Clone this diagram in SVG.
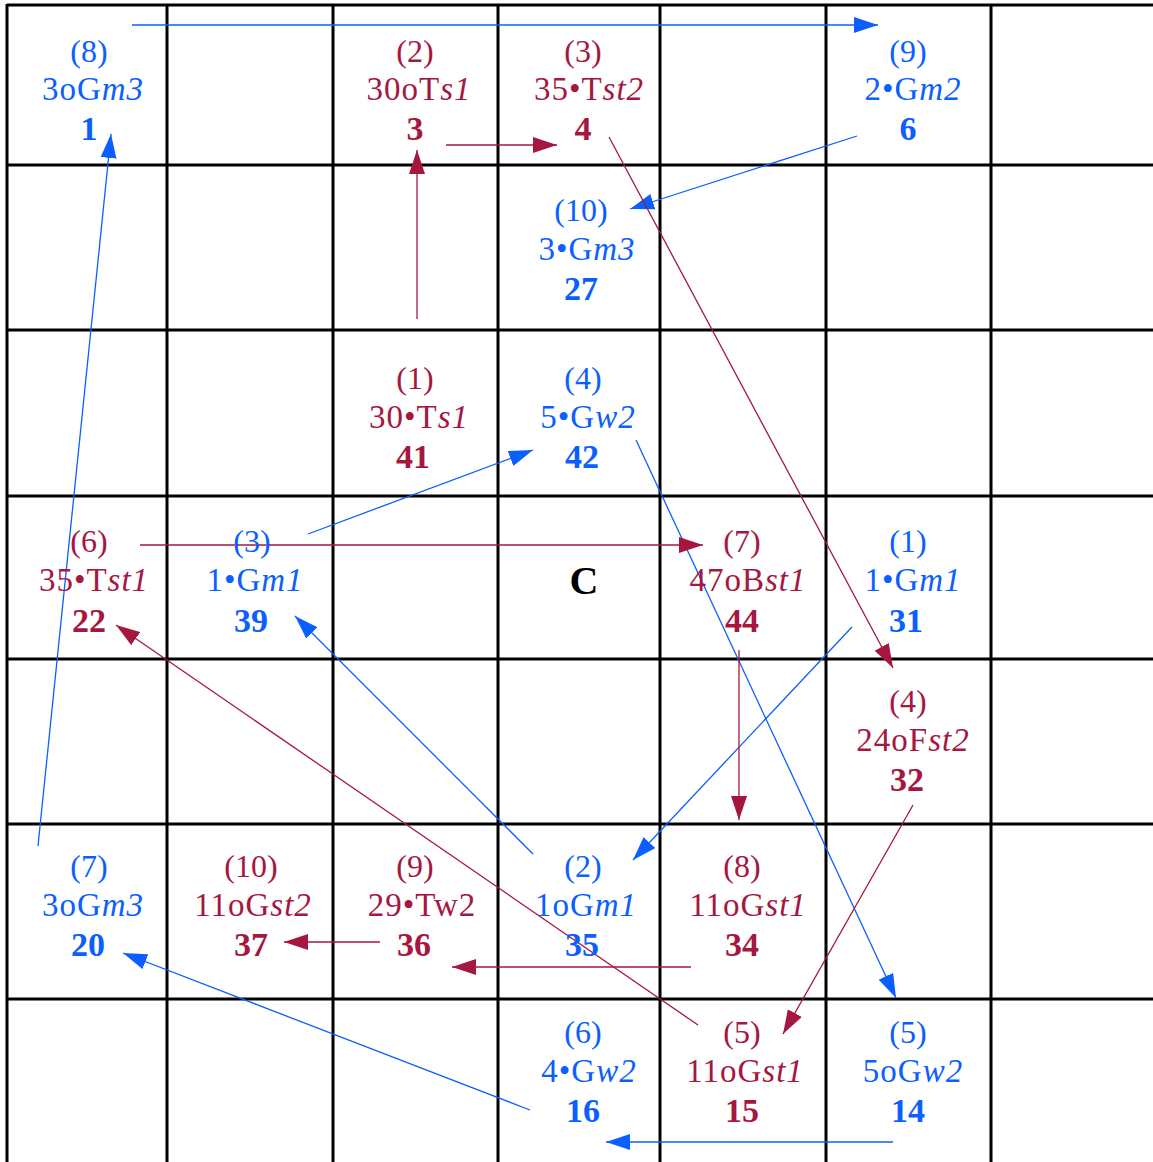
<svg xmlns="http://www.w3.org/2000/svg" width="1153" height="1162" viewBox="0 0 1153 1162">
<style>
text{font-family:"Liberation Serif","Times New Roman",serif;text-anchor:middle;font-size:32px}
.r{fill:#a6173f}.b{fill:#0b5fff}
.m{font-size:33px;letter-spacing:1px}
.n{font-weight:bold;font-size:34px}
.i{font-style:italic}
.grid line{stroke:#000;stroke-width:3}
.cr{stroke:#a6173f;stroke-width:1.3;fill:none;marker-end:url(#ar)}
.cb{stroke:#0b5fff;stroke-width:1.3;fill:none;marker-end:url(#ab)}
</style>
<defs>
<marker id="ar" markerUnits="userSpaceOnUse" markerWidth="24" markerHeight="16" refX="24" refY="8" orient="auto"><path d="M0,0L24,8L0,16z" fill="#a6173f"/></marker>
<marker id="ab" markerUnits="userSpaceOnUse" markerWidth="24" markerHeight="16" refX="24" refY="8" orient="auto"><path d="M0,0L24,8L0,16z" fill="#0b5fff"/></marker>
</defs>
<rect width="1153" height="1162" fill="#fff"/>
<g class="grid">
<line x1="7" y1="5" x2="1153" y2="5"/><line x1="7" y1="165" x2="1153" y2="165"/><line x1="7" y1="330" x2="1153" y2="330"/><line x1="7" y1="496" x2="1153" y2="496"/><line x1="7" y1="659" x2="1153" y2="659"/><line x1="7" y1="824" x2="1153" y2="824"/><line x1="7" y1="999" x2="1153" y2="999"/>
<line x1="7" y1="4" x2="7" y2="1162"/><line x1="167" y1="4" x2="167" y2="1162"/><line x1="333" y1="4" x2="333" y2="1162"/><line x1="498" y1="4" x2="498" y2="1162"/><line x1="660" y1="4" x2="660" y2="1162"/><line x1="826" y1="4" x2="826" y2="1162"/><line x1="991" y1="4" x2="991" y2="1162"/>
</g>
<g id="connectors">
<line class="cb" x1="132" y1="25" x2="878" y2="25"/>
<line class="cb" x1="38" y1="846" x2="111" y2="134"/>
<line class="cb" x1="857" y1="136" x2="630" y2="209"/>
<line class="cb" x1="308" y1="534" x2="533" y2="450"/>
<line class="cb" x1="636" y1="440" x2="896" y2="998"/>
<line class="cb" x1="852" y1="627" x2="633" y2="860"/>
<line class="cb" x1="533" y1="854" x2="295" y2="616"/>
<line class="cb" x1="530" y1="1110" x2="123" y2="953"/>
<line class="cb" x1="893" y1="1142" x2="606" y2="1142"/>
<line class="cr" x1="446" y1="145" x2="557" y2="145"/>
<line class="cr" x1="417" y1="319" x2="417" y2="150"/>
<line class="cr" x1="609" y1="137" x2="893" y2="668"/>
<line class="cr" x1="140" y1="545" x2="703" y2="545"/>
<line class="cr" x1="739" y1="650" x2="739" y2="820"/>
<line class="cr" x1="913" y1="805" x2="783" y2="1034"/>
<line class="cr" x1="698" y1="1025" x2="116" y2="625"/>
<line class="cr" x1="691" y1="967" x2="452" y2="967"/>
<line class="cr" x1="380" y1="942" x2="284" y2="942"/>
</g>
<g id="n-r0c0" class="b"><text x="89" y="62">(8)</text><text class="m" x="93" y="100">3oG<tspan class="i">m3</tspan></text><text class="n" x="89" y="140">1</text></g>
<g id="n-r0c2" class="r"><text x="415" y="62">(2)</text><text class="m" x="419" y="100">30oT<tspan class="i">s1</tspan></text><text class="n" x="415" y="140">3</text></g>
<g id="n-r0c3" class="r"><text x="583" y="62">(3)</text><text class="m" x="589" y="100">35•T<tspan class="i">st2</tspan></text><text class="n" x="583" y="140">4</text></g>
<g id="n-r0c5" class="b"><text x="908" y="62">(9)</text><text class="m" x="913" y="100">2•G<tspan class="i">m2</tspan></text><text class="n" x="908" y="140">6</text></g>
<g id="n-r1c3" class="b"><text x="581" y="221">(10)</text><text class="m" x="587" y="260">3•G<tspan class="i">m3</tspan></text><text class="n" x="581" y="300">27</text></g>
<g id="n-r2c2" class="r"><text x="415" y="389">(1)</text><text class="m" x="419" y="428">30•T<tspan class="i">s1</tspan></text><text class="n" x="413" y="468">41</text></g>
<g id="n-r2c3" class="b"><text x="583" y="389">(4)</text><text class="m" x="588" y="428">5•G<tspan class="i">w2</tspan></text><text class="n" x="582" y="468">42</text></g>
<g id="n-r3c0" class="r"><text x="89" y="552">(6)</text><text class="m" x="94" y="591">35•T<tspan class="i">st1</tspan></text><text class="n" x="89" y="632">22</text></g>
<g id="n-r3c1" class="b"><text x="252" y="552">(3)</text><text class="m" x="255" y="591">1•G<tspan class="i">m1</tspan></text><text class="n" x="251" y="632">39</text></g>
<g id="n-r3c3"><text x="584" y="594" style="font-size:40px;font-weight:bold">C</text></g>
<g id="n-r3c4" class="r"><text x="742" y="552">(7)</text><text class="m" x="748" y="591">47oB<tspan class="i">st1</tspan></text><text class="n" x="742" y="632">44</text></g>
<g id="n-r3c5" class="b"><text x="908" y="552">(1)</text><text class="m" x="913" y="591">1•G<tspan class="i">m1</tspan></text><text class="n" x="906" y="632">31</text></g>
<g id="n-r4c5" class="r"><text x="908" y="712">(4)</text><text class="m" x="913" y="751">24oF<tspan class="i">st2</tspan></text><text class="n" x="907" y="791">32</text></g>
<g id="n-r5c0" class="b"><text x="89" y="877">(7)</text><text class="m" x="93" y="916">3oG<tspan class="i">m3</tspan></text><text class="n" x="88" y="956">20</text></g>
<g id="n-r5c1" class="r"><text x="251" y="877">(10)</text><text class="m" x="253" y="916">11oG<tspan class="i">st2</tspan></text><text class="n" x="251" y="956">37</text></g>
<g id="n-r5c2" class="r"><text x="415" y="877">(9)</text><text class="m" x="422" y="916">29•Tw2</text><text class="n" x="414" y="956">36</text></g>
<g id="n-r5c3" class="b"><text x="583" y="877">(2)</text><text class="m" x="586" y="916">1oG<tspan class="i">m1</tspan></text><text class="n" x="582" y="956">35</text></g>
<g id="n-r5c4" class="r"><text x="742" y="877">(8)</text><text class="m" x="748" y="916">11oG<tspan class="i">st1</tspan></text><text class="n" x="742" y="956">34</text></g>
<g id="n-r6c3" class="b"><text x="583" y="1043">(6)</text><text class="m" x="589" y="1082">4•G<tspan class="i">w2</tspan></text><text class="n" x="583" y="1122">16</text></g>
<g id="n-r6c4" class="r"><text x="742" y="1043">(5)</text><text class="m" x="745" y="1082">11oG<tspan class="i">st1</tspan></text><text class="n" x="742" y="1122">15</text></g>
<g id="n-r6c5" class="b"><text x="908" y="1043">(5)</text><text class="m" x="913" y="1082">5oG<tspan class="i">w2</tspan></text><text class="n" x="908" y="1122">14</text></g>
</svg>
